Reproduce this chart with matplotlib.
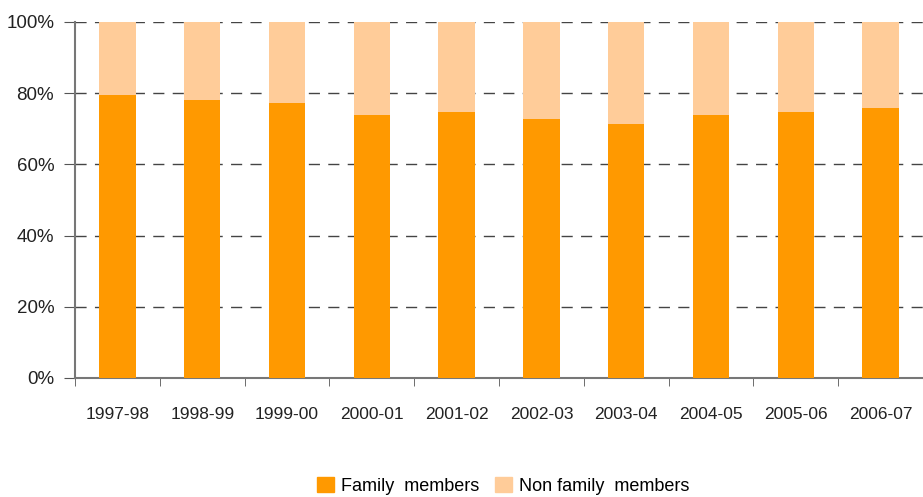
import matplotlib
matplotlib.use("Agg")
from matplotlib import pyplot as plt
import matplotlib.patches as mpatches
from matplotlib.ticker import PercentFormatter
import numpy as np

years = ['1997-98', '1998-99', '1999-00', '2000-01', '2001-02',
         '2002-03', '2003-04', '2004-05', '2005-06', '2006-07']
family = [79.5, 78.1, 77.2, 73.9, 74.7, 72.8, 71.3, 73.9, 74.7, 75.8]
non_family = [100 - v for v in family]

plt.rcParams['font.family'] = ['Liberation Sans', 'DejaVu Sans']

fig = plt.figure(figsize=(9.23, 4.97), dpi=100)
ax = fig.add_axes([75 / 923, 1 - 378 / 497, 1 - 75 / 923, 356 / 497])

x = np.arange(len(years))
ax.bar(x, family, width=0.43, color='#FF9900', zorder=3)
ax.bar(x, non_family, width=0.43, bottom=family, color='#FFCC99', zorder=3)

ax.set_xlim(-0.5, len(years) - 0.5)
ax.set_ylim(0, 100)
ax.set_yticks([0, 20, 40, 60, 80, 100])
ax.yaxis.set_major_formatter(PercentFormatter(decimals=0))
ax.yaxis.grid(True, linestyle=(0, (8, 6)), color='#444444', linewidth=1, zorder=1)

ax.set_xticks(x)
ax.set_xticklabels(years)
ax.set_xticks(np.arange(len(years) + 1) - 0.5, minor=True)
ax.tick_params(axis='x', which='major', length=0, pad=21, labelsize=12.5, labelcolor='#222222')
ax.tick_params(axis='x', which='minor', length=6, direction='out', color='#555555')
ax.tick_params(axis='y', length=8, direction='out', color='#555555', labelsize=13.5,
               labelcolor='#222222', pad=7)

for side in ['top', 'right']:
    ax.spines[side].set_visible(False)
for side in ['left', 'bottom']:
    ax.spines[side].set_color('#777777')
    ax.spines[side].set_linewidth(1.5)

handles = [mpatches.Patch(color='#FF9900', label='Family  members'),
           mpatches.Patch(color='#FFCC99', label='Non family  members')]
fig.legend(handles=handles, loc='lower center', bbox_to_anchor=(0.545, -0.028), ncol=2,
           frameon=False, fontsize=13, handlelength=0.95, handleheight=0.95,
           handletextpad=0.35, columnspacing=0.9)

fig.savefig('out.png', dpi=100)
